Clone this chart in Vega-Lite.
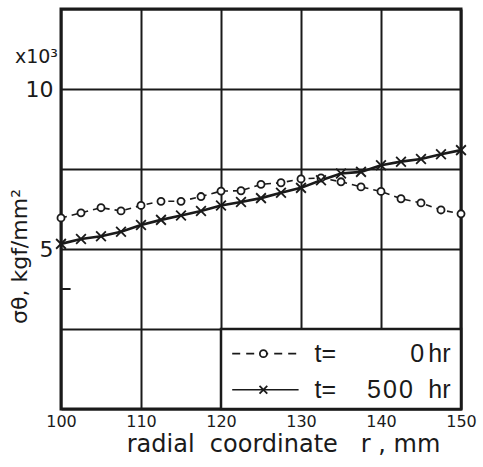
{
  "$schema": "https://vega.github.io/schema/vega-lite/v6.json",
  "autosize": "none",
  "width": 400,
  "height": 400,
  "padding": {"left": 61, "top": 9, "right": 22, "bottom": 58},
  "background": "white",
  "config": {
    "view": {"stroke": "#1a1a1a", "strokeWidth": 3},
    "font": "DejaVu Sans"
  },
  "datasets": {
    "curves": [
      {"series": "t0", "r": 100, "s": 5.97},
      {"series": "t0", "r": 102.5, "s": 6.13},
      {"series": "t0", "r": 105, "s": 6.29},
      {"series": "t0", "r": 107.5, "s": 6.19},
      {"series": "t0", "r": 110, "s": 6.36},
      {"series": "t0", "r": 112.5, "s": 6.49},
      {"series": "t0", "r": 115, "s": 6.49},
      {"series": "t0", "r": 117.5, "s": 6.64},
      {"series": "t0", "r": 120, "s": 6.81},
      {"series": "t0", "r": 122.5, "s": 6.82},
      {"series": "t0", "r": 125, "s": 7.02},
      {"series": "t0", "r": 127.5, "s": 7.07},
      {"series": "t0", "r": 130, "s": 7.19},
      {"series": "t0", "r": 132.5, "s": 7.22},
      {"series": "t0", "r": 135, "s": 7.10},
      {"series": "t0", "r": 137.5, "s": 6.94},
      {"series": "t0", "r": 140, "s": 6.80},
      {"series": "t0", "r": 142.5, "s": 6.57},
      {"series": "t0", "r": 145, "s": 6.44},
      {"series": "t0", "r": 147.5, "s": 6.22},
      {"series": "t0", "r": 150, "s": 6.10},
      {"series": "t500", "r": 100, "s": 5.16},
      {"series": "t500", "r": 102.5, "s": 5.31},
      {"series": "t500", "r": 105, "s": 5.40},
      {"series": "t500", "r": 107.5, "s": 5.54},
      {"series": "t500", "r": 110, "s": 5.75},
      {"series": "t500", "r": 112.5, "s": 5.91},
      {"series": "t500", "r": 115, "s": 6.05},
      {"series": "t500", "r": 117.5, "s": 6.19},
      {"series": "t500", "r": 120, "s": 6.36},
      {"series": "t500", "r": 122.5, "s": 6.47},
      {"series": "t500", "r": 125, "s": 6.59},
      {"series": "t500", "r": 127.5, "s": 6.76},
      {"series": "t500", "r": 130, "s": 6.91},
      {"series": "t500", "r": 132.5, "s": 7.15},
      {"series": "t500", "r": 135, "s": 7.36},
      {"series": "t500", "r": 137.5, "s": 7.41},
      {"series": "t500", "r": 140, "s": 7.62},
      {"series": "t500", "r": 142.5, "s": 7.73},
      {"series": "t500", "r": 145, "s": 7.81},
      {"series": "t500", "r": 147.5, "s": 7.96},
      {"series": "t500", "r": 150, "s": 8.09}
    ],
    "legendbox": [{"r": 120, "r2": 150, "s": 0, "s2": 2.5}],
    "legendlines": [
      {"series": "t0", "r": 121.4, "s": 1.73},
      {"series": "t0", "r": 129.7, "s": 1.73},
      {"series": "t500", "r": 121.4, "s": 0.6},
      {"series": "t500", "r": 129.7, "s": 0.6}
    ],
    "legendpts": [
      {"series": "t0", "r": 125.3, "s": 1.73},
      {"series": "t500", "r": 125.3, "s": 0.6}
    ],
    "legendtext": [
      {"r": 131.7, "s": 1.73, "label": "t=", "al": "left"},
      {"r": 145.4, "s": 1.73, "label": "0", "al": "right"},
      {"r": 148.7, "s": 1.73, "label": "hr", "al": "right"},
      {"r": 131.7, "s": 0.6, "label": "t=", "al": "left"},
      {"r": 144.0, "s": 0.6, "label": "5\u200a0\u200a0", "al": "right"},
      {"r": 148.7, "s": 0.6, "label": "hr", "al": "right"}
    ],
    "stray": [{"r": 100, "r2": 101.2, "s": 3.75}],
    "mult": [{"r": 100, "s": 11.0, "label": "x10³"}]
  },
  "layer": [
    {
      "data": {"name": "stray"},
      "mark": {"type": "rule", "color": "#1a1a1a", "strokeWidth": 2},
      "encoding": {
        "x": {"field": "r", "type": "quantitative"},
        "x2": {"field": "r2"},
        "y": {"field": "s", "type": "quantitative"}
      }
    },
    {
      "data": {"name": "curves"},
      "transform": [{"filter": "datum.series == 't0'"}],
      "mark": {"type": "line", "color": "#1a1a1a", "strokeWidth": 1.6, "strokeDash": [6, 5]},
      "encoding": {
        "x": {
          "field": "r", "type": "quantitative",
          "scale": {"domain": [100, 150], "nice": false, "zero": false},
          "axis": {
            "values": [100, 110, 120, 130, 140, 150],
            "grid": true, "gridColor": "#1a1a1a", "gridWidth": 2, "gridOpacity": 1,
            "domain": false, "ticks": false,
            "labelFontSize": 16, "labelColor": "#1a1a1a", "labelPadding": 4,
            "labelFlush": false,
            "title": "radial\u00a0\u00a0coordinate\u00a0\u00a0\u00a0r\u00a0,\u00a0mm",
            "titleFontSize": 24, "titleFontWeight": "normal", "titleColor": "#1a1a1a",
            "titlePadding": 3, "titleX": 222
          }
        },
        "y": {
          "field": "s", "type": "quantitative",
          "scale": {"domain": [0, 12.5], "nice": false},
          "axis": {
            "values": [0, 2.5, 5, 7.5, 10, 12.5],
            "labelExpr": "datum.value == 5 || datum.value == 10 ? datum.label : ''",
            "grid": true, "gridColor": "#1a1a1a", "gridWidth": 2, "gridOpacity": 1,
            "domain": false, "ticks": false,
            "labelFontSize": 22, "labelColor": "#1a1a1a", "labelPadding": 8,
            "title": "σθ, kgf/mm²",
            "titleFontSize": 22, "titleFontWeight": "normal", "titleColor": "#1a1a1a",
            "titleY": 247, "titleX": -42, "titleAngle": 270, "titleBaseline": "middle"
          }
        }
      }
    },
    {
      "data": {"name": "curves"},
      "transform": [{"filter": "datum.series == 't500'"}],
      "mark": {"type": "line", "color": "#1a1a1a", "strokeWidth": 2.6},
      "encoding": {
        "x": {"field": "r", "type": "quantitative"},
        "y": {"field": "s", "type": "quantitative"}
      }
    },
    {
      "data": {"name": "curves"},
      "transform": [{"filter": "datum.series == 't0'"}],
      "mark": {"type": "point", "shape": "circle", "filled": true, "fill": "white", "stroke": "#1a1a1a", "strokeWidth": 1.8, "size": 50, "opacity": 1},
      "encoding": {
        "x": {"field": "r", "type": "quantitative"},
        "y": {"field": "s", "type": "quantitative"}
      }
    },
    {
      "data": {"name": "curves"},
      "transform": [{"filter": "datum.series == 't500'"}],
      "mark": {"type": "point", "shape": "M-1,-1L1,1M-1,1L1,-1", "filled": false, "stroke": "#1a1a1a", "strokeWidth": 1.8, "size": 95, "opacity": 1},
      "encoding": {
        "x": {"field": "r", "type": "quantitative"},
        "y": {"field": "s", "type": "quantitative"}
      }
    },
    {
      "data": {"name": "legendbox"},
      "mark": {"type": "rect", "fill": "white", "stroke": "#1a1a1a", "strokeWidth": 2.5},
      "encoding": {
        "x": {"field": "r", "type": "quantitative"},
        "x2": {"field": "r2"},
        "y": {"field": "s", "type": "quantitative"},
        "y2": {"field": "s2"}
      }
    },
    {
      "data": {"name": "legendlines"},
      "transform": [{"filter": "datum.series == 't0'"}],
      "mark": {"type": "line", "color": "#1a1a1a", "strokeWidth": 1.8, "strokeDash": [8, 6]},
      "encoding": {
        "x": {"field": "r", "type": "quantitative"},
        "y": {"field": "s", "type": "quantitative"}
      }
    },
    {
      "data": {"name": "legendlines"},
      "transform": [{"filter": "datum.series == 't500'"}],
      "mark": {"type": "line", "color": "#1a1a1a", "strokeWidth": 1.6},
      "encoding": {
        "x": {"field": "r", "type": "quantitative"},
        "y": {"field": "s", "type": "quantitative"}
      }
    },
    {
      "data": {"name": "legendpts"},
      "transform": [{"filter": "datum.series == 't0'"}],
      "mark": {"type": "point", "shape": "circle", "filled": true, "fill": "white", "stroke": "#1a1a1a", "strokeWidth": 1.8, "size": 50, "opacity": 1},
      "encoding": {
        "x": {"field": "r", "type": "quantitative"},
        "y": {"field": "s", "type": "quantitative"}
      }
    },
    {
      "data": {"name": "legendpts"},
      "transform": [{"filter": "datum.series == 't500'"}],
      "mark": {"type": "point", "shape": "M-1,-1L1,1M-1,1L1,-1", "filled": false, "stroke": "#1a1a1a", "strokeWidth": 1.8, "size": 60, "opacity": 1},
      "encoding": {
        "x": {"field": "r", "type": "quantitative"},
        "y": {"field": "s", "type": "quantitative"}
      }
    },
    {
      "data": {"name": "legendtext"},
      "transform": [{"filter": "datum.al == 'left'"}],
      "mark": {"type": "text", "align": "left", "baseline": "middle", "fontSize": 25, "font": "Liberation Sans", "color": "#1a1a1a"},
      "encoding": {
        "x": {"field": "r", "type": "quantitative"},
        "y": {"field": "s", "type": "quantitative"},
        "text": {"field": "label"}
      }
    },
    {
      "data": {"name": "legendtext"},
      "transform": [{"filter": "datum.al == 'right'"}],
      "mark": {"type": "text", "align": "right", "baseline": "middle", "fontSize": 25, "font": "Liberation Sans", "color": "#1a1a1a"},
      "encoding": {
        "x": {"field": "r", "type": "quantitative"},
        "y": {"field": "s", "type": "quantitative"},
        "text": {"field": "label"}
      }
    },
    {
      "data": {"name": "mult"},
      "mark": {"type": "text", "align": "right", "baseline": "middle", "fontSize": 19, "color": "#1a1a1a", "dx": -3},
      "encoding": {
        "x": {"field": "r", "type": "quantitative"},
        "y": {"field": "s", "type": "quantitative"},
        "text": {"field": "label"}
      }
    }
  ]
}
